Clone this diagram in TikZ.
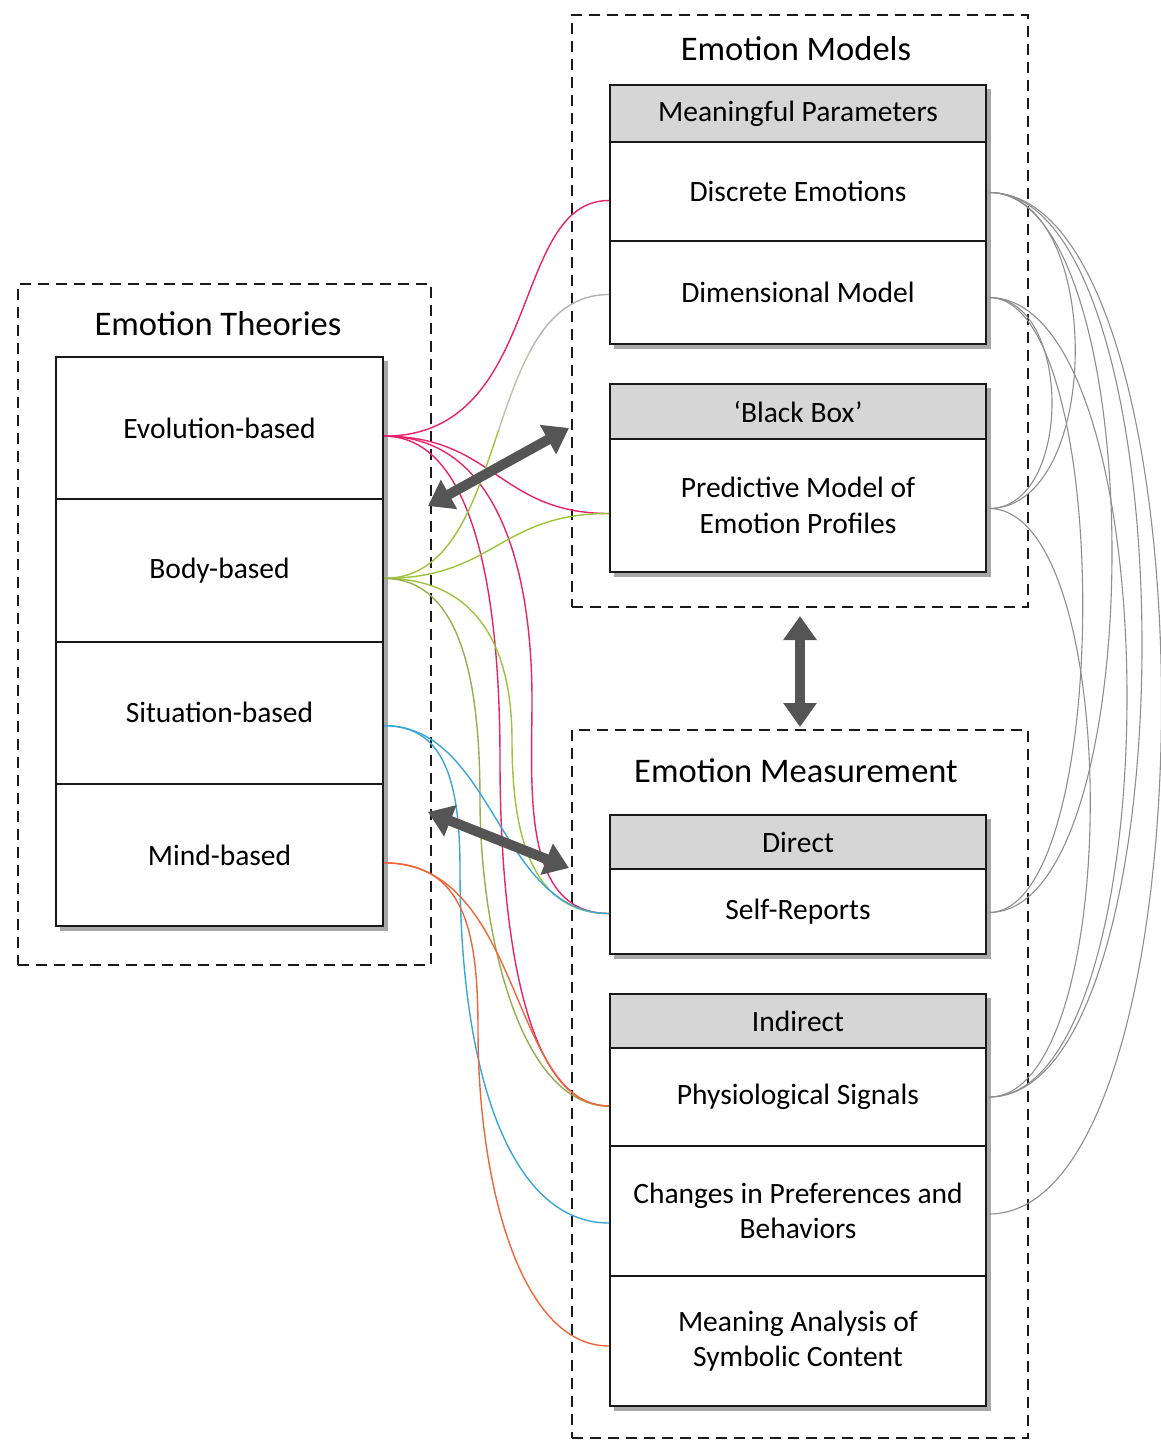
\documentclass[tikz,border=0pt]{standalone}
\usepackage{fontspec}
\setmainfont{Carlito}
\usetikzlibrary{arrows.meta}
\definecolor{cpink}{HTML}{E8236A}
\definecolor{cgreen}{HTML}{9DC23B}
\definecolor{cblue}{HTML}{3AA6D6}
\definecolor{corange}{HTML}{F0653A}
\definecolor{carc}{HTML}{8E8E8E}
\definecolor{chead}{HTML}{D6D6D6}
\definecolor{carrow}{HTML}{555555}
\definecolor{cshadow}{HTML}{A8A8A8}
\definecolor{cdash}{HTML}{1A1A1A}
\begin{document}
\begin{tikzpicture}[x=1pt,y=-1pt,
  group/.style={draw=cdash, line width=2pt, dash pattern=on 11pt off 7pt, inner sep=0pt, anchor=north west},
  cell/.style={draw=black!90, line width=2pt, fill=white, inner sep=0pt, anchor=north west, align=center, font=\fontsize{29.5}{35.5}\selectfont},
  head/.style={cell, fill=chead},
  grouptitle/.style={font=\fontsize{34.5}{40}\selectfont, anchor=base, inner sep=0pt},
  link/.style={line width=1.4pt},
  arc/.style={draw=carc, line width=1.1pt},
  bigarrow/.style={draw=carrow, line width=10pt, {Triangle[length=24pt,width=32pt]}-{Triangle[length=24pt,width=32pt]}},
  shadowbox/.style={fill=cshadow}
]
\useasboundingbox (0,0) rectangle (1161,1441);

% dashed groups
\node[group, minimum width=413pt, minimum height=681pt] (theories) at (17,283) {};
\node[group, minimum width=456pt, minimum height=592pt] (models) at (571,14) {};
\node[group, minimum width=456pt, minimum height=708pt] (meas) at (571,729) {};
\node[grouptitle] (ttheo) at (218,335) {Emotion Theories};
\node[grouptitle] (tmod) at (796,60) {Emotion Models};
\node[grouptitle] (tmeas) at (796,782) {Emotion Measurement};

% shadows
\fill[shadowbox] (60,361) rectangle (388,931);
\fill[shadowbox] (614,89) rectangle (991,349);
\fill[shadowbox] (614,388) rectangle (991,577);
\fill[shadowbox] (614,819) rectangle (991,959);
\fill[shadowbox] (614,998) rectangle (991,1411);

% left stack
\node[cell, minimum width=327pt, minimum height=142.25pt] (evo) at (55,356) {Evolution-based};
\node[cell, minimum width=327pt, minimum height=142.25pt] (body) at (55,498.25) {Body-based};
\node[cell, minimum width=327pt, minimum height=142.25pt] (sit) at (55,640.5) {Situation-based};
\node[cell, minimum width=327pt, minimum height=142.25pt] (mind) at (55,782.75) {Mind-based};

% models
\node[head, minimum width=376pt, minimum height=57pt] (mp) at (609,84) {Meaningful Parameters};
\node[cell, minimum width=376pt, minimum height=99pt] (de) at (609,141) {Discrete Emotions};
\node[cell, minimum width=376pt, minimum height=103pt] (dm) at (609,240) {Dimensional Model};
\node[head, minimum width=376pt, minimum height=55pt] (bb) at (609,383) {‘Black Box’};
\node[cell, minimum width=376pt, minimum height=133pt] (pm) at (609,438) {Predictive Model of\\Emotion Profiles};

% measurement
\node[head, minimum width=376pt, minimum height=54pt] (dir) at (609,814) {Direct};
\node[cell, minimum width=376pt, minimum height=85pt] (sr) at (609,868) {Self-Reports};
\node[head, minimum width=376pt, minimum height=54pt] (ind) at (609,993) {Indirect};
\node[cell, minimum width=376pt, minimum height=98pt] (ps) at (609,1047) {Physiological Signals};
\node[cell, minimum width=376pt, minimum height=130pt] (cp) at (609,1145) {Changes in Preferences and\\Behaviors};
\node[cell, minimum width=376pt, minimum height=130pt] (ma) at (609,1275) {Meaning Analysis of\\Symbolic Content};

% connection points
\coordinate (evoR) at ([yshift=-8pt]evo.east);
\coordinate (bodyR) at ([yshift=-8pt]body.east);
\coordinate (sitR) at ([yshift=-13pt]sit.east);
\coordinate (mindR) at ([yshift=-8pt]mind.east);
\coordinate (deL) at ([yshift=-9pt]de.west);
\coordinate (dmL) at ([yshift=-2pt]dm.west);
\coordinate (pmL) at ([yshift=-8pt]pm.west);
\coordinate (srL) at ([yshift=-2pt]sr.west);
\coordinate (psL) at ([yshift=-9pt]ps.west);
\coordinate (cpL) at ([yshift=-12pt]cp.west);
\coordinate (maL) at ([yshift=-5pt]ma.west);
\coordinate (deR) at ([xshift=2pt,yshift=-1pt]de.east);
\coordinate (dmR) at ([xshift=2pt,yshift=-5pt]dm.east);
\coordinate (pmR) at ([xshift=2pt,yshift=-3pt]pm.east);
\coordinate (srR) at ([xshift=2pt,yshift=-1pt]sr.east);
\coordinate (psR) at ([xshift=2pt]ps.east);
\coordinate (cpR) at ([xshift=2pt,yshift=-3pt]cp.east);

% left connectors
\draw[link,cpink] (evoR) .. controls +(160,0) and +(-100,0) .. (deL);
\draw[link,cpink] (evoR) .. controls +(110,0) and +(-110,0) .. (pmL);
\draw[link,cpink] (evoR) .. controls +(119,0) and +(0,-119) .. (532,700) .. controls +(0,88) and +(-88,0) .. (srL);
\draw[link,cpink] (evoR) .. controls +(100,0) and +(0,-130) .. (500,760) .. controls +(0,100) and +(-100,0) .. (psL);

\begin{scope}
  \clip (0,0) rectangle (1161,350);
  \draw[link,black!30] (bodyR) .. controls +(130,0) and +(-130,0) .. (dmL);
\end{scope}
\begin{scope}
  \clip (0,350) rectangle (1161,430);
  \draw[link,cgreen!55!black!40] (bodyR) .. controls +(130,0) and +(-130,0) .. (dmL);
\end{scope}
\begin{scope}
  \clip (0,430) rectangle (1161,1441);
  \draw[link,cgreen] (bodyR) .. controls +(130,0) and +(-130,0) .. (dmL);
\end{scope}
\draw[link,cgreen] (bodyR) .. controls +(110,0) and +(-110,0) .. (pmL);
\draw[link,cgreen] (bodyR) .. controls +(95,0) and +(0,-90) .. (512,740) .. controls +(0,90) and +(-80,0) .. (srL);
\draw[link,cgreen!70!gray] (bodyR) .. controls +(80,0) and +(0,-110) .. (480,800) .. controls +(0,130) and +(-90,0) .. (psL);

\draw[link,cblue] (sitR) .. controls +(110,0) and +(-110,0) .. (srL);
\draw[link,cblue] (sitR) .. controls +(60,0) and +(0,-90) .. (460,870) .. controls +(0,200) and +(-100,0) .. (cpL);

\draw[link,corange] (mindR) .. controls +(140,0) and +(-100,0) .. (psL);
\draw[link,corange] (mindR) .. controls +(80,0) and +(0,-100) .. (478,1030) .. controls +(0,150) and +(-90,0) .. (maL);

% right arcs
\draw[arc] (deR) .. controls +(115,0) and +(115,0) .. (pmR);
\draw[arc] (dmR) .. controls +(84,0) and +(84,0) .. (pmR);
\draw[arc] (deR) .. controls +(164,0) and +(164,0) .. (srR);
\draw[arc] (dmR) .. controls +(125,0) and +(125,0) .. (srR);
\draw[arc] (deR) .. controls +(204,0) and +(204,0) .. (psR);
\draw[arc] (dmR) .. controls +(184,0) and +(184,0) .. (psR);
\draw[arc] (deR) .. controls +(230,0) and +(230,0) .. (cpR);
\draw[arc] (pmR) .. controls +(135,0) and +(135,0) .. (psR);

% big arrows
\coordinate (d1a) at (428,506);
\coordinate (d1b) at (569,428);
\coordinate (d2a) at (428,812);
\coordinate (d2b) at (569,868);
\draw[bigarrow] (d1a) -- (d1b);
\draw[bigarrow] (d2a) -- (d2b);
\draw[bigarrow] ([yshift=-8pt]models.south) -- ([yshift=2pt]meas.north);
\end{tikzpicture}
\end{document}
